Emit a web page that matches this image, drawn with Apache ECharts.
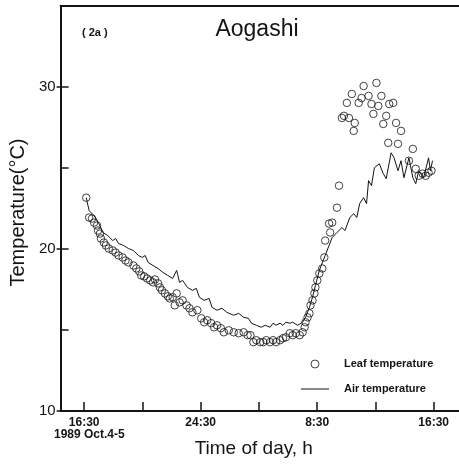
<!DOCTYPE html>
<html>
<head>
<meta charset="utf-8">
<script src="https://cdn.jsdelivr.net/npm/echarts@6/dist/echarts.min.js"></script>
<style>
  html, body { margin: 0; padding: 0; background: #fff; }
  #chart { width: 459px; height: 465px; }
</style>
</head>
<body>
<div id="chart"></div>
<script>
// Time in clock hours continuing past midnight (16.5 = 16:30 Oct.4, 32.5 = 8:30 Oct.5)
var airTime = [16.64,16.84,17.18,17.51,17.78,18.12,18.46,18.66,18.86,19.20,19.54,19.88,20.22,20.49,20.69,20.89,21.23,21.57,21.91,22.24,22.58,22.85,22.92,23.05,23.26,23.59,23.93,24.20,24.41,24.74,25.08,25.28,25.62,25.96,26.30,26.77,27.11,27.45,27.78,27.99,28.32,28.66,28.93,29.27,29.47,29.68,29.95,30.15,30.35,30.62,30.82,31.16,31.50,31.70,31.97,32.18,32.38,32.65,33.05,33.53,33.86,34.20,34.41,34.74,35.01,35.22,35.42,35.69,35.89,36.03,36.23,36.43,36.77,37.04,37.24,37.58,37.78,38.05,38.26,38.46,38.80,39.07,39.27,39.47,39.81,40.15,40.28,40.42];
var airTemp = [23.17,22.37,22.06,21.57,21.02,20.83,20.52,20.65,20.34,20.22,20.03,19.91,19.60,19.48,19.60,19.17,18.98,18.80,18.55,18.37,18.18,18.68,18.43,17.94,18.06,17.63,17.45,17.57,17.02,16.83,16.95,16.40,16.22,16.34,16.09,15.91,16.03,15.78,15.72,15.42,15.29,15.17,15.29,15.17,15.42,15.29,15.42,15.29,15.48,15.42,15.48,15.29,15.48,15.78,16.40,17.02,17.75,18.68,19.60,20.71,21.02,21.32,21.14,21.94,22.18,21.94,22.80,23.17,22.80,24.22,23.91,25.02,25.26,24.65,24.34,25.94,25.63,24.83,25.45,24.40,25.63,24.40,24.03,24.83,24.40,25.63,24.83,25.45];

var leafTime = [16.64,16.84,17.04,17.18,17.38,17.45,17.58,17.65,17.85,17.99,18.19,18.46,18.66,18.86,19.14,19.34,19.54,19.88,20.08,20.28,20.42,20.62,20.82,21.03,21.23,21.36,21.57,21.70,21.84,22.04,22.24,22.38,22.58,22.72,22.85,23.05,23.26,23.53,23.73,23.93,24.27,24.54,24.74,24.95,25.22,25.42,25.62,25.89,26.09,26.43,26.77,27.11,27.45,27.72,27.92,28.12,28.32,28.59,28.80,29.00,29.27,29.47,29.68,29.95,30.15,30.35,30.62,30.82,31.03,31.30,31.50,31.64,31.70,31.84,31.97,32.04,32.18,32.31,32.38,32.51,32.65,32.85,32.99,33.05,33.32,33.39,33.53,33.86,34.00,34.20,34.34,34.54,34.68,34.88,35.01,35.08,35.35,35.55,35.69,36.03,36.23,36.36,36.57,36.70,36.91,37.04,37.24,37.38,37.45,37.72,37.92,38.05,38.26,38.80,39.07,39.27,39.47,39.74,39.95,40.15,40.35];
var leafTemp = [23.17,21.94,21.88,21.63,21.45,21.14,20.95,20.65,20.40,20.22,20.03,19.91,19.78,19.60,19.48,19.29,19.17,18.98,18.80,18.62,18.37,18.31,18.18,18.06,17.94,18.12,17.88,17.63,17.45,17.26,17.08,16.95,17.02,16.52,17.26,16.71,16.83,16.52,16.34,16.09,16.22,15.72,15.48,15.60,15.42,15.17,15.29,15.11,14.86,14.98,14.86,14.80,14.86,14.68,14.68,14.25,14.37,14.25,14.25,14.37,14.25,14.37,14.25,14.37,14.49,14.55,14.80,14.68,14.80,14.68,14.86,15.17,15.48,15.78,16.03,16.52,16.83,17.26,17.63,18.06,18.49,18.80,19.48,20.52,21.57,21.02,21.63,22.55,23.91,28.09,28.22,29.02,28.09,29.57,27.29,27.78,29.02,29.32,30.06,29.45,28.95,28.34,30.25,28.83,29.45,27.72,28.22,26.55,28.95,29.02,27.78,26.49,27.29,25.45,26.18,24.95,24.52,24.65,24.52,24.71,24.83];

var xTicks = [16.5, 20.5, 24.5, 28.5, 32.5, 36.5, 40.5];
var xLabels = [16.5, 24.5, 32.5, 40.5];
var yMajor = [10, 20, 30];
var yMinor = [10, 15, 20, 25, 30];

var titleText = 'Aogashi';
var panelText = '( 2a )';
var dateText = '1989 Oct.4-5';
var xName = 'Time of day, h';
var yName = 'Temperature(\u00B0C)';
var leafName = 'Leaf temperature';
var airName = 'Air temperature';

function zip(a, b) { var r = []; for (var i = 0; i < Math.min(a.length, b.length); i++) r.push([a[i], b[i]]); return r; }
function clock(v) {
  var h = Math.floor(v); var m = Math.round((v - h) * 60);
  if (h > 24) h -= 24;
  return h + ':' + (m < 10 ? '0' + m : m);
}

var FONT = "'Liberation Sans', Arial, Helvetica, sans-serif";
var INK = '#141414';

var chart = echarts.init(document.getElementById('chart'), null, { renderer: 'canvas' });
chart.setOption({
  backgroundColor: '#ffffff',
  animation: false,
  title: {
    text: titleText,
    left: 252, top: 13, textAlign: 'center',
    textStyle: { fontFamily: FONT, fontSize: 23, fontWeight: 'normal', color: INK }
  },
  grid: { left: 54, top: 6, right: 0, bottom: 54, containLabel: false },
  legend: {
    orient: 'vertical', left: 301, top: 357, padding: 0, itemWidth: 28, itemHeight: 8, itemGap: 11,
    data: [
      { name: leafName, icon: 'circle', itemStyle: { color: 'rgba(255,255,255,0)', borderColor: INK, borderWidth: 1 } },
      { name: airName, icon: 'path://M0 0H28V1H0Z', itemStyle: { color: INK } }
    ],
    textStyle: { fontFamily: FONT, fontSize: 11, fontWeight: 'bold', color: INK, padding: [0, 0, 0, 10], lineHeight: 14 }
  },
  xAxis: [{
    type: 'value', min: 14.88, max: 42.24,
    name: xName, nameLocation: 'middle', nameGap: 28,
    nameTextStyle: { fontFamily: FONT, fontSize: 19, color: INK, padding: [0, 12, 0, 0] },
    axisLine: { show: true, lineStyle: { color: INK, width: 2 } },
    axisTick: { show: true, inside: true, length: 9, customValues: xTicks, lineStyle: { color: INK, width: 1.5 } },
    axisLabel: { show: true, customValues: xLabels, formatter: clock, margin: 6,
      fontFamily: FONT, fontSize: 12, fontWeight: 'bold', color: INK },
    splitLine: { show: false }
  }, {
    type: 'value', position: 'top', min: 14.88, max: 42.24,
    axisLine: { show: true, onZero: false, lineStyle: { color: INK, width: 2 } },
    axisTick: { show: false }, axisLabel: { show: false }, splitLine: { show: false }
  }],
  yAxis: [{
    type: 'value', min: 10, max: 35, position: 'left',
    name: yName, nameLocation: 'middle', nameGap: 26, nameRotate: 90,
    nameTextStyle: { fontFamily: FONT, fontSize: 20, color: INK, padding: [0, 8, 0, 0] },
    axisLine: { show: true, lineStyle: { color: INK, width: 2 } },
    axisTick: { show: true, inside: false, length: 4, customValues: yMajor, lineStyle: { color: INK, width: 1.5 } },
    axisLabel: { show: true, customValues: yMajor, margin: 5, fontFamily: FONT, fontSize: 15, color: INK },
    splitLine: { show: false }
  }, {
    type: 'value', min: 10, max: 35, position: 'left',
    axisLine: { show: false },
    axisTick: { show: true, inside: true, length: 8, customValues: yMinor, lineStyle: { color: INK, width: 1.5 } },
    axisLabel: { show: false }, splitLine: { show: false }
  }],
  graphic: [
    { type: 'text', left: 82, top: 27, style: { text: panelText, fontFamily: FONT, fontSize: 11, fontWeight: 'bold', fill: INK } },
    { type: 'text', left: 54, top: 429, style: { text: dateText, fontFamily: FONT, fontSize: 12, fontWeight: 'bold', fill: INK } }
  ],
  series: [{
    name: leafName, type: 'scatter', xAxisIndex: 0, yAxisIndex: 0,
    data: zip(leafTime, leafTemp),
    symbol: 'circle', symbolSize: 7.5,
    itemStyle: { color: 'rgba(255,255,255,0)', borderColor: INK, borderWidth: 1 },
    z: 3
  }, {
    name: airName, type: 'line', xAxisIndex: 0, yAxisIndex: 0,
    data: zip(airTime, airTemp),
    symbol: 'none', smooth: false,
    lineStyle: { color: INK, width: 1 },
    itemStyle: { color: INK },
    z: 2
  }]
});
</script>
</body>
</html>
